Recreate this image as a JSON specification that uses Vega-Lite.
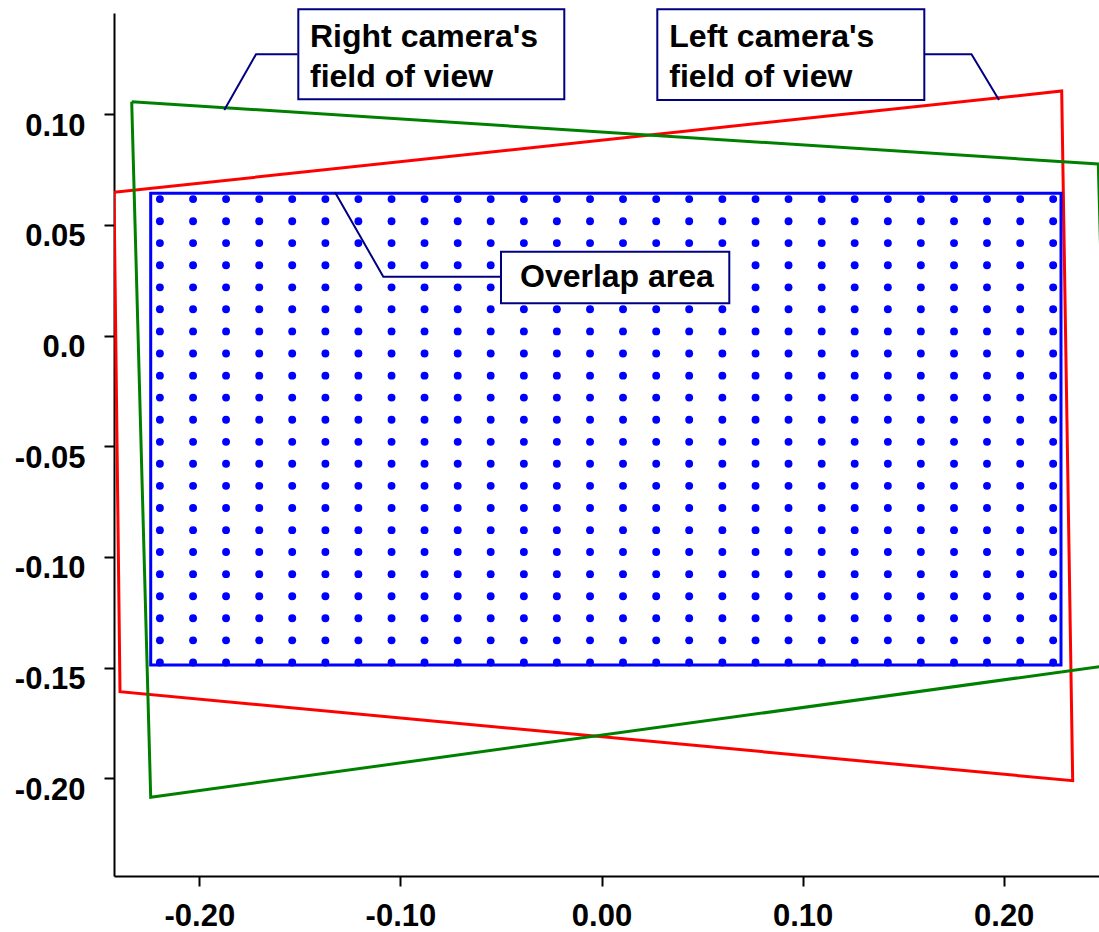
{
  "$schema": "https://vega.github.io/schema/vega-lite/v6.json",
  "width": 985,
  "height": 863,
  "autosize": {"type": "none"},
  "padding": {"left": 114, "top": 13, "right": 0, "bottom": 56},
  "background": "white",
  "config": {
    "view": {"stroke": null},
    "axis": {
      "grid": false,
      "domainColor": "black",
      "domainWidth": 2,
      "tickColor": "black",
      "tickWidth": 2,
      "tickSize": 10,
      "labelFont": "Liberation Sans",
      "labelFontWeight": "bold",
      "labelFontSize": 31,
      "labelColor": "black",
      "title": null
    }
  },
  "datasets": {
    "fov": [
      {"shape": "left", "ord": 0, "x": -0.24242, "y": 0.06475},
      {"shape": "left", "ord": 1, "x": 0.22884, "y": 0.11053},
      {"shape": "left", "ord": 2, "x": 0.23431, "y": -0.20113},
      {"shape": "left", "ord": 3, "x": -0.23943, "y": -0.16091},
      {"shape": "left", "ord": 4, "x": -0.24242, "y": 0.06475},
      {"shape": "right", "ord": 0, "x": -0.23362, "y": 0.10569},
      {"shape": "right", "ord": 1, "x": 0.24704, "y": 0.07754},
      {"shape": "right", "ord": 2, "x": 0.25385, "y": -0.14881},
      {"shape": "right", "ord": 3, "x": -0.22417, "y": -0.20863},
      {"shape": "right", "ord": 4, "x": -0.23362, "y": 0.10569}
    ],
    "overlap": [
      {"x": -0.22417, "x2": 0.22849, "y": 0.0643, "y2": -0.14885}
    ],
    "leaders": [
      {"id": "r", "ord": 0, "x": -0.15111, "y": 0.12711},
      {"id": "r", "ord": 1, "x": -0.1718, "y": 0.12711},
      {"id": "r", "ord": 2, "x": -0.18757, "y": 0.10194},
      {"id": "l", "ord": 0, "x": 0.16052, "y": 0.12711},
      {"id": "l", "ord": 1, "x": 0.18399, "y": 0.12711},
      {"id": "l", "ord": 2, "x": 0.19766, "y": 0.10646},
      {"id": "o", "ord": 0, "x": -0.04998, "y": 0.02662},
      {"id": "o", "ord": 1, "x": -0.1085, "y": 0.02662},
      {"id": "o", "ord": 2, "x": -0.13252, "y": 0.06475}
    ],
    "boxes": [
      {"x": -0.15077, "x2": -0.0185, "y": 0.14745, "y2": 0.10678},
      {"x": 0.02775, "x2": 0.16052, "y": 0.14745, "y2": 0.10646},
      {"x": -0.04998, "x2": 0.06355, "y": 0.03791, "y2": 0.0146}
    ],
    "labels": [
      {"x": -0.14495, "y": 0.13055, "text": "Right camera's"},
      {"x": -0.14495, "y": 0.1122, "text": "field of view"},
      {"x": 0.03371, "y": 0.13055, "text": "Left camera's"},
      {"x": 0.03371, "y": 0.1122, "text": "field of view"},
      {"x": -0.04053, "y": 0.0221, "text": "Overlap area"}
    ],
    "dots": [
{"x":-0.2196,"y":0.0617},{"x":-0.2031,"y":0.0617},{"x":-0.1867,"y":0.0617},{"x":-0.1702,"y":0.0617},{"x":-0.1538,"y":0.0617},{"x":-0.1373,"y":0.0617},{"x":-0.1209,"y":0.0617},{"x":-0.1044,"y":0.0617},{"x":-0.088,"y":0.0617},{"x":-0.0715,"y":0.0617},{"x":-0.0551,"y":0.0617},{"x":-0.0386,"y":0.0617},{"x":-0.0222,"y":0.0617},{"x":-0.0057,"y":0.0617},{"x":0.0107,"y":0.0617},{"x":0.0272,"y":0.0617},{"x":0.0436,"y":0.0617},{"x":0.0601,"y":0.0617},{"x":0.0766,"y":0.0617},{"x":0.093,"y":0.0617},{"x":0.1095,"y":0.0617},{"x":0.1259,"y":0.0617},{"x":0.1424,"y":0.0617},{"x":0.1588,"y":0.0617},{"x":0.1753,"y":0.0617},{"x":0.1917,"y":0.0617},{"x":0.2082,"y":0.0617},{"x":0.2246,"y":0.0617},
{"x":-0.2196,"y":0.0517},{"x":-0.2031,"y":0.0517},{"x":-0.1867,"y":0.0517},{"x":-0.1702,"y":0.0517},{"x":-0.1538,"y":0.0517},{"x":-0.1373,"y":0.0517},{"x":-0.1209,"y":0.0517},{"x":-0.1044,"y":0.0517},{"x":-0.088,"y":0.0517},{"x":-0.0715,"y":0.0517},{"x":-0.0551,"y":0.0517},{"x":-0.0386,"y":0.0517},{"x":-0.0222,"y":0.0517},{"x":-0.0057,"y":0.0517},{"x":0.0107,"y":0.0517},{"x":0.0272,"y":0.0517},{"x":0.0436,"y":0.0517},{"x":0.0601,"y":0.0517},{"x":0.0766,"y":0.0517},{"x":0.093,"y":0.0517},{"x":0.1095,"y":0.0517},{"x":0.1259,"y":0.0517},{"x":0.1424,"y":0.0517},{"x":0.1588,"y":0.0517},{"x":0.1753,"y":0.0517},{"x":0.1917,"y":0.0517},{"x":0.2082,"y":0.0517},{"x":0.2246,"y":0.0517},
{"x":-0.2196,"y":0.0418},{"x":-0.2031,"y":0.0418},{"x":-0.1867,"y":0.0418},{"x":-0.1702,"y":0.0418},{"x":-0.1538,"y":0.0418},{"x":-0.1373,"y":0.0418},{"x":-0.1209,"y":0.0418},{"x":-0.1044,"y":0.0418},{"x":-0.088,"y":0.0418},{"x":-0.0715,"y":0.0418},{"x":-0.0551,"y":0.0418},{"x":-0.0386,"y":0.0418},{"x":-0.0222,"y":0.0418},{"x":-0.0057,"y":0.0418},{"x":0.0107,"y":0.0418},{"x":0.0272,"y":0.0418},{"x":0.0436,"y":0.0418},{"x":0.0601,"y":0.0418},{"x":0.0766,"y":0.0418},{"x":0.093,"y":0.0418},{"x":0.1095,"y":0.0418},{"x":0.1259,"y":0.0418},{"x":0.1424,"y":0.0418},{"x":0.1588,"y":0.0418},{"x":0.1753,"y":0.0418},{"x":0.1917,"y":0.0418},{"x":0.2082,"y":0.0418},{"x":0.2246,"y":0.0418},
{"x":-0.2196,"y":0.0318},{"x":-0.2031,"y":0.0318},{"x":-0.1867,"y":0.0318},{"x":-0.1702,"y":0.0318},{"x":-0.1538,"y":0.0318},{"x":-0.1373,"y":0.0318},{"x":-0.1209,"y":0.0318},{"x":-0.1044,"y":0.0318},{"x":-0.088,"y":0.0318},{"x":-0.0715,"y":0.0318},{"x":-0.0551,"y":0.0318},{"x":-0.0386,"y":0.0318},{"x":-0.0222,"y":0.0318},{"x":-0.0057,"y":0.0318},{"x":0.0107,"y":0.0318},{"x":0.0272,"y":0.0318},{"x":0.0436,"y":0.0318},{"x":0.0601,"y":0.0318},{"x":0.0766,"y":0.0318},{"x":0.093,"y":0.0318},{"x":0.1095,"y":0.0318},{"x":0.1259,"y":0.0318},{"x":0.1424,"y":0.0318},{"x":0.1588,"y":0.0318},{"x":0.1753,"y":0.0318},{"x":0.1917,"y":0.0318},{"x":0.2082,"y":0.0318},{"x":0.2246,"y":0.0318},
{"x":-0.2196,"y":0.0218},{"x":-0.2031,"y":0.0218},{"x":-0.1867,"y":0.0218},{"x":-0.1702,"y":0.0218},{"x":-0.1538,"y":0.0218},{"x":-0.1373,"y":0.0218},{"x":-0.1209,"y":0.0218},{"x":-0.1044,"y":0.0218},{"x":-0.088,"y":0.0218},{"x":-0.0715,"y":0.0218},{"x":-0.0551,"y":0.0218},{"x":-0.0386,"y":0.0218},{"x":-0.0222,"y":0.0218},{"x":-0.0057,"y":0.0218},{"x":0.0107,"y":0.0218},{"x":0.0272,"y":0.0218},{"x":0.0436,"y":0.0218},{"x":0.0601,"y":0.0218},{"x":0.0766,"y":0.0218},{"x":0.093,"y":0.0218},{"x":0.1095,"y":0.0218},{"x":0.1259,"y":0.0218},{"x":0.1424,"y":0.0218},{"x":0.1588,"y":0.0218},{"x":0.1753,"y":0.0218},{"x":0.1917,"y":0.0218},{"x":0.2082,"y":0.0218},{"x":0.2246,"y":0.0218},
{"x":-0.2196,"y":0.0119},{"x":-0.2031,"y":0.0119},{"x":-0.1867,"y":0.0119},{"x":-0.1702,"y":0.0119},{"x":-0.1538,"y":0.0119},{"x":-0.1373,"y":0.0119},{"x":-0.1209,"y":0.0119},{"x":-0.1044,"y":0.0119},{"x":-0.088,"y":0.0119},{"x":-0.0715,"y":0.0119},{"x":-0.0551,"y":0.0119},{"x":-0.0386,"y":0.0119},{"x":-0.0222,"y":0.0119},{"x":-0.0057,"y":0.0119},{"x":0.0107,"y":0.0119},{"x":0.0272,"y":0.0119},{"x":0.0436,"y":0.0119},{"x":0.0601,"y":0.0119},{"x":0.0766,"y":0.0119},{"x":0.093,"y":0.0119},{"x":0.1095,"y":0.0119},{"x":0.1259,"y":0.0119},{"x":0.1424,"y":0.0119},{"x":0.1588,"y":0.0119},{"x":0.1753,"y":0.0119},{"x":0.1917,"y":0.0119},{"x":0.2082,"y":0.0119},{"x":0.2246,"y":0.0119},
{"x":-0.2196,"y":0.0019},{"x":-0.2031,"y":0.0019},{"x":-0.1867,"y":0.0019},{"x":-0.1702,"y":0.0019},{"x":-0.1538,"y":0.0019},{"x":-0.1373,"y":0.0019},{"x":-0.1209,"y":0.0019},{"x":-0.1044,"y":0.0019},{"x":-0.088,"y":0.0019},{"x":-0.0715,"y":0.0019},{"x":-0.0551,"y":0.0019},{"x":-0.0386,"y":0.0019},{"x":-0.0222,"y":0.0019},{"x":-0.0057,"y":0.0019},{"x":0.0107,"y":0.0019},{"x":0.0272,"y":0.0019},{"x":0.0436,"y":0.0019},{"x":0.0601,"y":0.0019},{"x":0.0766,"y":0.0019},{"x":0.093,"y":0.0019},{"x":0.1095,"y":0.0019},{"x":0.1259,"y":0.0019},{"x":0.1424,"y":0.0019},{"x":0.1588,"y":0.0019},{"x":0.1753,"y":0.0019},{"x":0.1917,"y":0.0019},{"x":0.2082,"y":0.0019},{"x":0.2246,"y":0.0019},
{"x":-0.2196,"y":-0.0081},{"x":-0.2031,"y":-0.0081},{"x":-0.1867,"y":-0.0081},{"x":-0.1702,"y":-0.0081},{"x":-0.1538,"y":-0.0081},{"x":-0.1373,"y":-0.0081},{"x":-0.1209,"y":-0.0081},{"x":-0.1044,"y":-0.0081},{"x":-0.088,"y":-0.0081},{"x":-0.0715,"y":-0.0081},{"x":-0.0551,"y":-0.0081},{"x":-0.0386,"y":-0.0081},{"x":-0.0222,"y":-0.0081},{"x":-0.0057,"y":-0.0081},{"x":0.0107,"y":-0.0081},{"x":0.0272,"y":-0.0081},{"x":0.0436,"y":-0.0081},{"x":0.0601,"y":-0.0081},{"x":0.0766,"y":-0.0081},{"x":0.093,"y":-0.0081},{"x":0.1095,"y":-0.0081},{"x":0.1259,"y":-0.0081},{"x":0.1424,"y":-0.0081},{"x":0.1588,"y":-0.0081},{"x":0.1753,"y":-0.0081},{"x":0.1917,"y":-0.0081},{"x":0.2082,"y":-0.0081},{"x":0.2246,"y":-0.0081},
{"x":-0.2196,"y":-0.0181},{"x":-0.2031,"y":-0.0181},{"x":-0.1867,"y":-0.0181},{"x":-0.1702,"y":-0.0181},{"x":-0.1538,"y":-0.0181},{"x":-0.1373,"y":-0.0181},{"x":-0.1209,"y":-0.0181},{"x":-0.1044,"y":-0.0181},{"x":-0.088,"y":-0.0181},{"x":-0.0715,"y":-0.0181},{"x":-0.0551,"y":-0.0181},{"x":-0.0386,"y":-0.0181},{"x":-0.0222,"y":-0.0181},{"x":-0.0057,"y":-0.0181},{"x":0.0107,"y":-0.0181},{"x":0.0272,"y":-0.0181},{"x":0.0436,"y":-0.0181},{"x":0.0601,"y":-0.0181},{"x":0.0766,"y":-0.0181},{"x":0.093,"y":-0.0181},{"x":0.1095,"y":-0.0181},{"x":0.1259,"y":-0.0181},{"x":0.1424,"y":-0.0181},{"x":0.1588,"y":-0.0181},{"x":0.1753,"y":-0.0181},{"x":0.1917,"y":-0.0181},{"x":0.2082,"y":-0.0181},{"x":0.2246,"y":-0.0181},
{"x":-0.2196,"y":-0.028},{"x":-0.2031,"y":-0.028},{"x":-0.1867,"y":-0.028},{"x":-0.1702,"y":-0.028},{"x":-0.1538,"y":-0.028},{"x":-0.1373,"y":-0.028},{"x":-0.1209,"y":-0.028},{"x":-0.1044,"y":-0.028},{"x":-0.088,"y":-0.028},{"x":-0.0715,"y":-0.028},{"x":-0.0551,"y":-0.028},{"x":-0.0386,"y":-0.028},{"x":-0.0222,"y":-0.028},{"x":-0.0057,"y":-0.028},{"x":0.0107,"y":-0.028},{"x":0.0272,"y":-0.028},{"x":0.0436,"y":-0.028},{"x":0.0601,"y":-0.028},{"x":0.0766,"y":-0.028},{"x":0.093,"y":-0.028},{"x":0.1095,"y":-0.028},{"x":0.1259,"y":-0.028},{"x":0.1424,"y":-0.028},{"x":0.1588,"y":-0.028},{"x":0.1753,"y":-0.028},{"x":0.1917,"y":-0.028},{"x":0.2082,"y":-0.028},{"x":0.2246,"y":-0.028},
{"x":-0.2196,"y":-0.038},{"x":-0.2031,"y":-0.038},{"x":-0.1867,"y":-0.038},{"x":-0.1702,"y":-0.038},{"x":-0.1538,"y":-0.038},{"x":-0.1373,"y":-0.038},{"x":-0.1209,"y":-0.038},{"x":-0.1044,"y":-0.038},{"x":-0.088,"y":-0.038},{"x":-0.0715,"y":-0.038},{"x":-0.0551,"y":-0.038},{"x":-0.0386,"y":-0.038},{"x":-0.0222,"y":-0.038},{"x":-0.0057,"y":-0.038},{"x":0.0107,"y":-0.038},{"x":0.0272,"y":-0.038},{"x":0.0436,"y":-0.038},{"x":0.0601,"y":-0.038},{"x":0.0766,"y":-0.038},{"x":0.093,"y":-0.038},{"x":0.1095,"y":-0.038},{"x":0.1259,"y":-0.038},{"x":0.1424,"y":-0.038},{"x":0.1588,"y":-0.038},{"x":0.1753,"y":-0.038},{"x":0.1917,"y":-0.038},{"x":0.2082,"y":-0.038},{"x":0.2246,"y":-0.038},
{"x":-0.2196,"y":-0.048},{"x":-0.2031,"y":-0.048},{"x":-0.1867,"y":-0.048},{"x":-0.1702,"y":-0.048},{"x":-0.1538,"y":-0.048},{"x":-0.1373,"y":-0.048},{"x":-0.1209,"y":-0.048},{"x":-0.1044,"y":-0.048},{"x":-0.088,"y":-0.048},{"x":-0.0715,"y":-0.048},{"x":-0.0551,"y":-0.048},{"x":-0.0386,"y":-0.048},{"x":-0.0222,"y":-0.048},{"x":-0.0057,"y":-0.048},{"x":0.0107,"y":-0.048},{"x":0.0272,"y":-0.048},{"x":0.0436,"y":-0.048},{"x":0.0601,"y":-0.048},{"x":0.0766,"y":-0.048},{"x":0.093,"y":-0.048},{"x":0.1095,"y":-0.048},{"x":0.1259,"y":-0.048},{"x":0.1424,"y":-0.048},{"x":0.1588,"y":-0.048},{"x":0.1753,"y":-0.048},{"x":0.1917,"y":-0.048},{"x":0.2082,"y":-0.048},{"x":0.2246,"y":-0.048},
{"x":-0.2196,"y":-0.0579},{"x":-0.2031,"y":-0.0579},{"x":-0.1867,"y":-0.0579},{"x":-0.1702,"y":-0.0579},{"x":-0.1538,"y":-0.0579},{"x":-0.1373,"y":-0.0579},{"x":-0.1209,"y":-0.0579},{"x":-0.1044,"y":-0.0579},{"x":-0.088,"y":-0.0579},{"x":-0.0715,"y":-0.0579},{"x":-0.0551,"y":-0.0579},{"x":-0.0386,"y":-0.0579},{"x":-0.0222,"y":-0.0579},{"x":-0.0057,"y":-0.0579},{"x":0.0107,"y":-0.0579},{"x":0.0272,"y":-0.0579},{"x":0.0436,"y":-0.0579},{"x":0.0601,"y":-0.0579},{"x":0.0766,"y":-0.0579},{"x":0.093,"y":-0.0579},{"x":0.1095,"y":-0.0579},{"x":0.1259,"y":-0.0579},{"x":0.1424,"y":-0.0579},{"x":0.1588,"y":-0.0579},{"x":0.1753,"y":-0.0579},{"x":0.1917,"y":-0.0579},{"x":0.2082,"y":-0.0579},{"x":0.2246,"y":-0.0579},
{"x":-0.2196,"y":-0.0679},{"x":-0.2031,"y":-0.0679},{"x":-0.1867,"y":-0.0679},{"x":-0.1702,"y":-0.0679},{"x":-0.1538,"y":-0.0679},{"x":-0.1373,"y":-0.0679},{"x":-0.1209,"y":-0.0679},{"x":-0.1044,"y":-0.0679},{"x":-0.088,"y":-0.0679},{"x":-0.0715,"y":-0.0679},{"x":-0.0551,"y":-0.0679},{"x":-0.0386,"y":-0.0679},{"x":-0.0222,"y":-0.0679},{"x":-0.0057,"y":-0.0679},{"x":0.0107,"y":-0.0679},{"x":0.0272,"y":-0.0679},{"x":0.0436,"y":-0.0679},{"x":0.0601,"y":-0.0679},{"x":0.0766,"y":-0.0679},{"x":0.093,"y":-0.0679},{"x":0.1095,"y":-0.0679},{"x":0.1259,"y":-0.0679},{"x":0.1424,"y":-0.0679},{"x":0.1588,"y":-0.0679},{"x":0.1753,"y":-0.0679},{"x":0.1917,"y":-0.0679},{"x":0.2082,"y":-0.0679},{"x":0.2246,"y":-0.0679},
{"x":-0.2196,"y":-0.0779},{"x":-0.2031,"y":-0.0779},{"x":-0.1867,"y":-0.0779},{"x":-0.1702,"y":-0.0779},{"x":-0.1538,"y":-0.0779},{"x":-0.1373,"y":-0.0779},{"x":-0.1209,"y":-0.0779},{"x":-0.1044,"y":-0.0779},{"x":-0.088,"y":-0.0779},{"x":-0.0715,"y":-0.0779},{"x":-0.0551,"y":-0.0779},{"x":-0.0386,"y":-0.0779},{"x":-0.0222,"y":-0.0779},{"x":-0.0057,"y":-0.0779},{"x":0.0107,"y":-0.0779},{"x":0.0272,"y":-0.0779},{"x":0.0436,"y":-0.0779},{"x":0.0601,"y":-0.0779},{"x":0.0766,"y":-0.0779},{"x":0.093,"y":-0.0779},{"x":0.1095,"y":-0.0779},{"x":0.1259,"y":-0.0779},{"x":0.1424,"y":-0.0779},{"x":0.1588,"y":-0.0779},{"x":0.1753,"y":-0.0779},{"x":0.1917,"y":-0.0779},{"x":0.2082,"y":-0.0779},{"x":0.2246,"y":-0.0779},
{"x":-0.2196,"y":-0.0879},{"x":-0.2031,"y":-0.0879},{"x":-0.1867,"y":-0.0879},{"x":-0.1702,"y":-0.0879},{"x":-0.1538,"y":-0.0879},{"x":-0.1373,"y":-0.0879},{"x":-0.1209,"y":-0.0879},{"x":-0.1044,"y":-0.0879},{"x":-0.088,"y":-0.0879},{"x":-0.0715,"y":-0.0879},{"x":-0.0551,"y":-0.0879},{"x":-0.0386,"y":-0.0879},{"x":-0.0222,"y":-0.0879},{"x":-0.0057,"y":-0.0879},{"x":0.0107,"y":-0.0879},{"x":0.0272,"y":-0.0879},{"x":0.0436,"y":-0.0879},{"x":0.0601,"y":-0.0879},{"x":0.0766,"y":-0.0879},{"x":0.093,"y":-0.0879},{"x":0.1095,"y":-0.0879},{"x":0.1259,"y":-0.0879},{"x":0.1424,"y":-0.0879},{"x":0.1588,"y":-0.0879},{"x":0.1753,"y":-0.0879},{"x":0.1917,"y":-0.0879},{"x":0.2082,"y":-0.0879},{"x":0.2246,"y":-0.0879},
{"x":-0.2196,"y":-0.0978},{"x":-0.2031,"y":-0.0978},{"x":-0.1867,"y":-0.0978},{"x":-0.1702,"y":-0.0978},{"x":-0.1538,"y":-0.0978},{"x":-0.1373,"y":-0.0978},{"x":-0.1209,"y":-0.0978},{"x":-0.1044,"y":-0.0978},{"x":-0.088,"y":-0.0978},{"x":-0.0715,"y":-0.0978},{"x":-0.0551,"y":-0.0978},{"x":-0.0386,"y":-0.0978},{"x":-0.0222,"y":-0.0978},{"x":-0.0057,"y":-0.0978},{"x":0.0107,"y":-0.0978},{"x":0.0272,"y":-0.0978},{"x":0.0436,"y":-0.0978},{"x":0.0601,"y":-0.0978},{"x":0.0766,"y":-0.0978},{"x":0.093,"y":-0.0978},{"x":0.1095,"y":-0.0978},{"x":0.1259,"y":-0.0978},{"x":0.1424,"y":-0.0978},{"x":0.1588,"y":-0.0978},{"x":0.1753,"y":-0.0978},{"x":0.1917,"y":-0.0978},{"x":0.2082,"y":-0.0978},{"x":0.2246,"y":-0.0978},
{"x":-0.2196,"y":-0.1078},{"x":-0.2031,"y":-0.1078},{"x":-0.1867,"y":-0.1078},{"x":-0.1702,"y":-0.1078},{"x":-0.1538,"y":-0.1078},{"x":-0.1373,"y":-0.1078},{"x":-0.1209,"y":-0.1078},{"x":-0.1044,"y":-0.1078},{"x":-0.088,"y":-0.1078},{"x":-0.0715,"y":-0.1078},{"x":-0.0551,"y":-0.1078},{"x":-0.0386,"y":-0.1078},{"x":-0.0222,"y":-0.1078},{"x":-0.0057,"y":-0.1078},{"x":0.0107,"y":-0.1078},{"x":0.0272,"y":-0.1078},{"x":0.0436,"y":-0.1078},{"x":0.0601,"y":-0.1078},{"x":0.0766,"y":-0.1078},{"x":0.093,"y":-0.1078},{"x":0.1095,"y":-0.1078},{"x":0.1259,"y":-0.1078},{"x":0.1424,"y":-0.1078},{"x":0.1588,"y":-0.1078},{"x":0.1753,"y":-0.1078},{"x":0.1917,"y":-0.1078},{"x":0.2082,"y":-0.1078},{"x":0.2246,"y":-0.1078},
{"x":-0.2196,"y":-0.1178},{"x":-0.2031,"y":-0.1178},{"x":-0.1867,"y":-0.1178},{"x":-0.1702,"y":-0.1178},{"x":-0.1538,"y":-0.1178},{"x":-0.1373,"y":-0.1178},{"x":-0.1209,"y":-0.1178},{"x":-0.1044,"y":-0.1178},{"x":-0.088,"y":-0.1178},{"x":-0.0715,"y":-0.1178},{"x":-0.0551,"y":-0.1178},{"x":-0.0386,"y":-0.1178},{"x":-0.0222,"y":-0.1178},{"x":-0.0057,"y":-0.1178},{"x":0.0107,"y":-0.1178},{"x":0.0272,"y":-0.1178},{"x":0.0436,"y":-0.1178},{"x":0.0601,"y":-0.1178},{"x":0.0766,"y":-0.1178},{"x":0.093,"y":-0.1178},{"x":0.1095,"y":-0.1178},{"x":0.1259,"y":-0.1178},{"x":0.1424,"y":-0.1178},{"x":0.1588,"y":-0.1178},{"x":0.1753,"y":-0.1178},{"x":0.1917,"y":-0.1178},{"x":0.2082,"y":-0.1178},{"x":0.2246,"y":-0.1178},
{"x":-0.2196,"y":-0.1277},{"x":-0.2031,"y":-0.1277},{"x":-0.1867,"y":-0.1277},{"x":-0.1702,"y":-0.1277},{"x":-0.1538,"y":-0.1277},{"x":-0.1373,"y":-0.1277},{"x":-0.1209,"y":-0.1277},{"x":-0.1044,"y":-0.1277},{"x":-0.088,"y":-0.1277},{"x":-0.0715,"y":-0.1277},{"x":-0.0551,"y":-0.1277},{"x":-0.0386,"y":-0.1277},{"x":-0.0222,"y":-0.1277},{"x":-0.0057,"y":-0.1277},{"x":0.0107,"y":-0.1277},{"x":0.0272,"y":-0.1277},{"x":0.0436,"y":-0.1277},{"x":0.0601,"y":-0.1277},{"x":0.0766,"y":-0.1277},{"x":0.093,"y":-0.1277},{"x":0.1095,"y":-0.1277},{"x":0.1259,"y":-0.1277},{"x":0.1424,"y":-0.1277},{"x":0.1588,"y":-0.1277},{"x":0.1753,"y":-0.1277},{"x":0.1917,"y":-0.1277},{"x":0.2082,"y":-0.1277},{"x":0.2246,"y":-0.1277},
{"x":-0.2196,"y":-0.1377},{"x":-0.2031,"y":-0.1377},{"x":-0.1867,"y":-0.1377},{"x":-0.1702,"y":-0.1377},{"x":-0.1538,"y":-0.1377},{"x":-0.1373,"y":-0.1377},{"x":-0.1209,"y":-0.1377},{"x":-0.1044,"y":-0.1377},{"x":-0.088,"y":-0.1377},{"x":-0.0715,"y":-0.1377},{"x":-0.0551,"y":-0.1377},{"x":-0.0386,"y":-0.1377},{"x":-0.0222,"y":-0.1377},{"x":-0.0057,"y":-0.1377},{"x":0.0107,"y":-0.1377},{"x":0.0272,"y":-0.1377},{"x":0.0436,"y":-0.1377},{"x":0.0601,"y":-0.1377},{"x":0.0766,"y":-0.1377},{"x":0.093,"y":-0.1377},{"x":0.1095,"y":-0.1377},{"x":0.1259,"y":-0.1377},{"x":0.1424,"y":-0.1377},{"x":0.1588,"y":-0.1377},{"x":0.1753,"y":-0.1377},{"x":0.1917,"y":-0.1377},{"x":0.2082,"y":-0.1377},{"x":0.2246,"y":-0.1377},
{"x":-0.2196,"y":-0.1477},{"x":-0.2031,"y":-0.1477},{"x":-0.1867,"y":-0.1477},{"x":-0.1702,"y":-0.1477},{"x":-0.1538,"y":-0.1477},{"x":-0.1373,"y":-0.1477},{"x":-0.1209,"y":-0.1477},{"x":-0.1044,"y":-0.1477},{"x":-0.088,"y":-0.1477},{"x":-0.0715,"y":-0.1477},{"x":-0.0551,"y":-0.1477},{"x":-0.0386,"y":-0.1477},{"x":-0.0222,"y":-0.1477},{"x":-0.0057,"y":-0.1477},{"x":0.0107,"y":-0.1477},{"x":0.0272,"y":-0.1477},{"x":0.0436,"y":-0.1477},{"x":0.0601,"y":-0.1477},{"x":0.0766,"y":-0.1477},{"x":0.093,"y":-0.1477},{"x":0.1095,"y":-0.1477},{"x":0.1259,"y":-0.1477},{"x":0.1424,"y":-0.1477},{"x":0.1588,"y":-0.1477},{"x":0.1753,"y":-0.1477},{"x":0.1917,"y":-0.1477},{"x":0.2082,"y":-0.1477},{"x":0.2246,"y":-0.1477}
    ]
  },
  "encoding": {
    "x": {
      "field": "x",
      "type": "quantitative",
      "scale": {"domain": [-0.24242, 0.24739], "nice": false, "zero": false},
      "axis": {
        "values": [-0.2, -0.1, 0, 0.1, 0.2],
        "labelPadding": 15,
        "labelExpr": "replace(format(datum.value, '.2f'), '\u2212', '-')"
      }
    },
    "y": {
      "field": "y",
      "type": "quantitative",
      "scale": {"domain": [-0.24419, 0.14578], "nice": false, "zero": false},
      "axis": {
        "values": [0.1, 0.05, 0, -0.05, -0.1, -0.15, -0.2],
        "labelPadding": 19,
        "labelBaseline": "middle",
        "labelOffset": 12,
        "labelExpr": "datum.value === 0 ? '0.0' : replace(format(datum.value, '.2f'), '\u2212', '-')"
      }
    }
  },
  "layer": [
    {
      "data": {"name": "fov"},
      "mark": {"type": "line", "strokeWidth": 3, "clip": true},
      "encoding": {
        "order": {"field": "ord", "type": "quantitative"},
        "color": {
          "field": "shape",
          "type": "nominal",
          "scale": {"domain": ["left", "right"], "range": ["#FF0000", "#008000"]},
          "legend": null
        }
      }
    },
    {
      "data": {"name": "overlap"},
      "mark": {"type": "rect", "fillOpacity": 0, "fill": "white", "stroke": "#0000FF", "strokeWidth": 3},
      "encoding": {
        "x2": {"field": "x2"},
        "y2": {"field": "y2"}
      }
    },
    {
      "data": {"name": "dots"},
      "mark": {"type": "circle", "size": 62, "color": "#0000FF", "opacity": 1}
    },
    {
      "data": {"name": "leaders"},
      "mark": {"type": "line", "color": "#000080", "strokeWidth": 2},
      "encoding": {
        "detail": {"field": "id", "type": "nominal"},
        "order": {"field": "ord", "type": "quantitative"}
      }
    },
    {
      "data": {"name": "boxes"},
      "mark": {"type": "rect", "fill": "white", "stroke": "#000080", "strokeWidth": 2},
      "encoding": {
        "x2": {"field": "x2"},
        "y2": {"field": "y2"}
      }
    },
    {
      "data": {"name": "labels"},
      "mark": {"type": "text", "align": "left", "baseline": "alphabetic", "font": "Liberation Sans", "fontWeight": "bold", "fontSize": 32, "color": "black"},
      "encoding": {
        "text": {"field": "text", "type": "nominal"}
      }
    }
  ]
}
